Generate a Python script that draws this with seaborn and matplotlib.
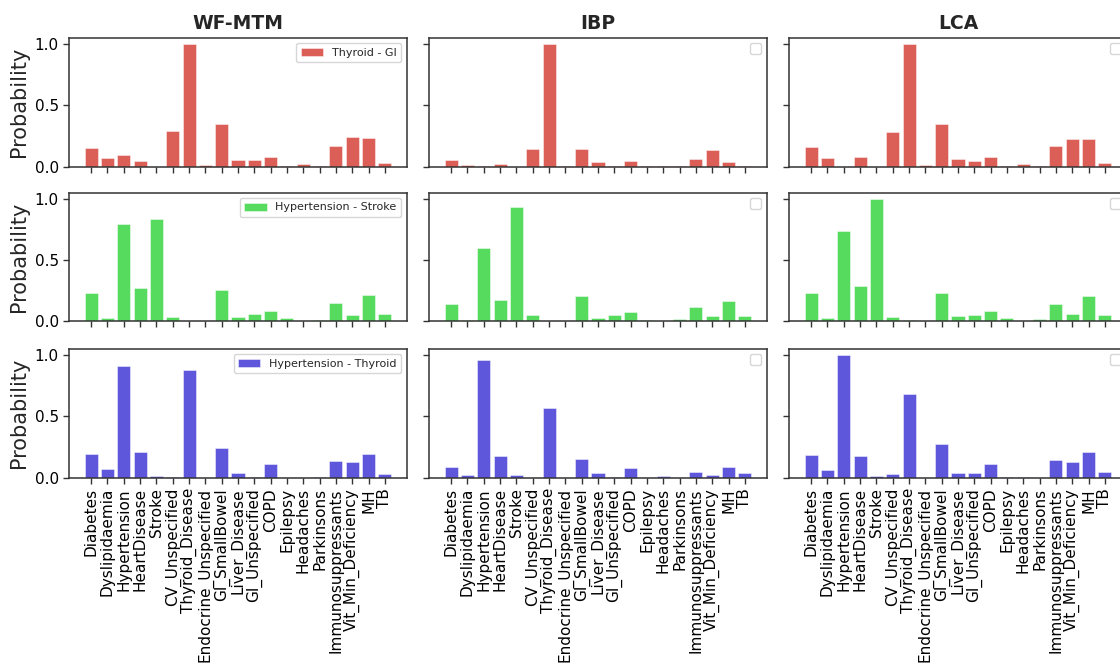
import matplotlib
matplotlib.use("Agg")
import matplotlib.pyplot as plt
import seaborn as sns

categories = ["Diabetes", "Dyslipidaemia", "Hypertension", "HeartDisease", "Stroke",
              "CV_Unspecified", "Thyroid_Disease", "Endocrine_Unspecified", "GI_SmallBowel",
              "Liver_Disease", "GI_Unspecified", "COPD", "Epilepsy", "Headaches",
              "Parkinsons", "Immunosuppressants", "Vit_Min_Deficiency", "MH", "TB"]

methods = ["WF-MTM", "IBP", "LCA"]
pairs = ["Thyroid - GI", "Hypertension - Stroke", "Hypertension - Thyroid"]

# Thyroid - GI
wf_thyroid_gi = [0.152, 0.071, 0.098, 0.046, 0.0, 0.291, 1.0, 0.016, 0.348, 0.057,
                 0.052, 0.082, 0.005, 0.024, 0.008, 0.171, 0.245, 0.234, 0.027]
ibp_thyroid_gi = [0.057, 0.016, 0.008, 0.022, 0.0, 0.147, 1.0, 0.003, 0.141, 0.035,
                  0.003, 0.049, 0.003, 0.008, 0.003, 0.060, 0.136, 0.038, 0.008]
lca_thyroid_gi = [0.163, 0.073, 0.0, 0.076, 0.0, 0.285, 1.0, 0.016, 0.348, 0.060,
                  0.046, 0.076, 0.008, 0.022, 0.008, 0.171, 0.228, 0.226, 0.027]

# Hypertension - Stroke
wf_hyp_stroke = [0.228, 0.030, 0.796, 0.274, 0.832, 0.033, 0.0, 0.005, 0.253, 0.033,
                 0.065, 0.087, 0.030, 0.005, 0.014, 0.152, 0.052, 0.217, 0.065]
ibp_hyp_stroke = [0.141, 0.011, 0.598, 0.177, 0.929, 0.052, 0.008, 0.005, 0.207, 0.027,
                  0.052, 0.079, 0.014, 0.005, 0.022, 0.120, 0.043, 0.166, 0.043]
lca_hyp_stroke = [0.234, 0.027, 0.734, 0.285, 1.0, 0.038, 0.014, 0.005, 0.228, 0.041,
                  0.052, 0.087, 0.030, 0.003, 0.019, 0.144, 0.060, 0.209, 0.052]

# Hypertension - Thyroid
wf_hyp_thyroid = [0.190, 0.073, 0.911, 0.209, 0.014, 0.005, 0.875, 0.0, 0.241, 0.041,
                  0.005, 0.111, 0.0, 0.0, 0.005, 0.136, 0.125, 0.192, 0.027]
ibp_hyp_thyroid = [0.084, 0.022, 0.962, 0.173, 0.022, 0.0, 0.566, 0.0, 0.149, 0.038,
                   0.005, 0.079, 0.0, 0.014, 0.0, 0.046, 0.022, 0.087, 0.038]
lca_hyp_thyroid = [0.184, 0.062, 1.0, 0.179, 0.016, 0.030, 0.683, 0.0, 0.276, 0.035,
                   0.035, 0.111, 0.008, 0.005, 0.0, 0.146, 0.125, 0.209, 0.049]

grid = [
    [wf_thyroid_gi, ibp_thyroid_gi, lca_thyroid_gi],
    [wf_hyp_stroke, ibp_hyp_stroke, lca_hyp_stroke],
    [wf_hyp_thyroid, ibp_hyp_thyroid, lca_hyp_thyroid],
]

sns.set_theme(style="ticks")
plt.rcParams.update({
    "font.family": ["DejaVu Sans"],
    "axes.edgecolor": "#333333",
    "axes.linewidth": 1.1,
    "xtick.color": "#333333",
    "ytick.color": "#333333",
    "xtick.labelcolor": "black",
    "ytick.labelcolor": "black",
    "xtick.major.size": 4,
    "ytick.major.size": 4,
    "xtick.major.width": 1.0,
    "ytick.major.width": 1.0,
    "xtick.labelsize": 11,
    "ytick.labelsize": 11,
})

colors = sns.color_palette("hls", 3)

W, H = 1120, 671
fig = plt.figure(figsize=(W / 100, H / 100), dpi=100)

col_left = [69.3, 429.3, 789.3]
ax_w = 337.4
row_top = [37.7, 192.5, 348.7]
ax_h = 129.0

n = len(categories)
for r in range(3):
    for c in range(3):
        ax = fig.add_axes([col_left[c] / W, (H - row_top[r] - ax_h) / H, ax_w / W, ax_h / H])
        sns.barplot(x=categories, y=grid[r][c], color=colors[r], saturation=1,
                    width=0.8, edgecolor=(1, 1, 1, 0.45), linewidth=0.7,
                    label=pairs[r] if c == 0 else None, ax=ax)
        ax.set_xlim(-0.4 - 0.94, n - 1 + 0.4 + 0.94)
        ax.set_ylim(0, 1.05)
        ax.set_yticks([0.0, 0.5, 1.0])
        ax.set_xticks(range(n))
        if r == 2:
            ax.set_xticklabels(categories, rotation=90)
        else:
            ax.tick_params(labelbottom=False)
        if c == 0:
            ax.set_yticklabels(["0.0", "0.5", "1.0"])
            ax.set_ylabel("Probability", fontsize=15)
            ax.legend(loc="upper right", fontsize=8)
        else:
            ax.tick_params(labelleft=False)
            ax.set_ylabel("")
            ax.legend(handles=[], loc="upper right", fontsize=8, borderpad=0.5)
        ax.set_xlabel("")
        if r == 0:
            ax.set_title(methods[c], fontsize=13.5, fontweight="bold")

fig.savefig("out.png", dpi=100)
